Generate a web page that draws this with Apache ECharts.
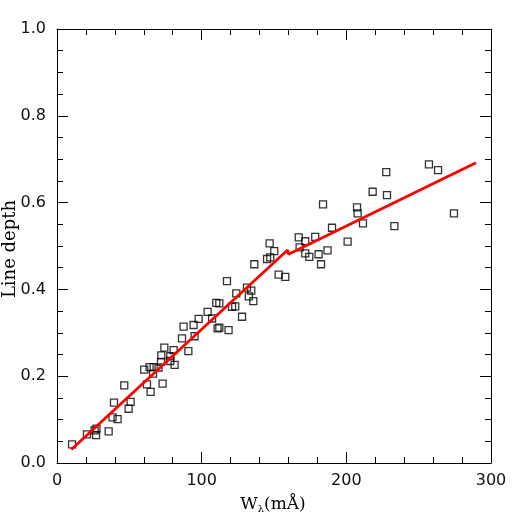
<!DOCTYPE html>
<html>
<head>
<meta charset="utf-8">
<script src="https://cdn.jsdelivr.net/npm/echarts@6/dist/echarts.min.js"></script>
<style>
  html, body { margin: 0; padding: 0; background: #fff; }
  #chart { width: 518px; height: 518px; }
</style>
</head>
<body>
<div id="chart"></div>
<script>
// measured lines: equivalent width (mA) vs line depth
var wLambda = [10.4, 20.7, 26.0, 27.0, 27.3, 35.7, 38.4, 41.9, 39.4, 46.5,
               49.5, 50.9, 60.3, 62.2, 64.7, 73.0, 64.0, 66.8, 70.2, 66.4,
               71.9, 72.1, 74.2, 78.3, 80.6, 81.3, 78.3, 86.4, 90.8, 87.5,
               94.4, 95.1, 97.9, 104.1, 107.2, 111.0, 112.2, 118.6, 110.1, 112.2,
               121.0, 123.2, 127.9, 123.9, 117.5, 131.3, 134.3, 132.6, 135.7, 136.4,
               145.2, 147.4, 150.2, 147.0, 153.2, 157.8, 167.1, 171.6, 167.7, 171.6,
               174.4, 178.5, 180.8, 187.0, 182.5, 183.9, 190.1, 200.9, 207.4, 207.8,
               211.5, 218.2, 227.6, 228.1, 233.2, 257.1, 263.4, 274.4];
var depth = [0.043, 0.066, 0.075, 0.064, 0.079, 0.073, 0.105, 0.101, 0.139, 0.179,
             0.125, 0.141, 0.215, 0.181, 0.164, 0.183, 0.221, 0.221, 0.220, 0.206,
             0.233, 0.248, 0.266, 0.235, 0.260, 0.226, 0.246, 0.287, 0.258, 0.314,
             0.318, 0.292, 0.332, 0.348, 0.333, 0.310, 0.312, 0.306, 0.369, 0.368,
             0.360, 0.361, 0.337, 0.391, 0.419, 0.404, 0.397, 0.384, 0.373, 0.458,
             0.470, 0.474, 0.488, 0.506, 0.434, 0.429, 0.520, 0.511, 0.497, 0.483,
             0.475, 0.521, 0.481, 0.490, 0.458, 0.596, 0.542, 0.510, 0.589, 0.575,
             0.552, 0.625, 0.670, 0.617, 0.546, 0.688, 0.675, 0.575];

// the red fit: low-width branch, then high-width branch (joined by a small jog)
var fitLowX = [9.9, 159.4];
var fitLowY = [0.031, 0.491];
var fitHighX = [160.0, 289.6];
var fitHighY = [0.481, 0.692];

var xTicks = [0, 100, 200, 300];
var yTicks = [0, 0.2, 0.4, 0.6, 0.8, 1.0];

function pairs(xs, ys) {
    var out = [];
    for (var i = 0; i < xs.length; i++) out.push([xs[i], ys[i]]);
    return out;
}

var myChart = echarts.init(document.getElementById('chart'));

var tickFont = { fontFamily: 'DejaVu Sans', fontSize: 16, color: '#111' };

function xAxisCfg(pos, labels) {
    return {
        type: 'value',
        position: pos,
        min: xTicks[0],
        max: xTicks[xTicks.length - 1],
        interval: 100,
        axisLine: { show: true, onZero: false, lineStyle: { color: '#000', width: 1 } },
        axisTick: { show: true, inside: true, length: 11, lineStyle: { color: '#000' } },
        minorTick: { show: true, splitNumber: 5, length: 6, lineStyle: { color: '#000' } },
        splitLine: { show: false },
        axisLabel: Object.assign({ show: labels, margin: 10 }, tickFont)
    };
}

function yAxisCfg(pos, labels) {
    return {
        type: 'value',
        position: pos,
        min: yTicks[0],
        max: yTicks[yTicks.length - 1],
        interval: 0.2,
        axisLine: { show: true, onZero: false, lineStyle: { color: '#000', width: 1 } },
        axisTick: { show: true, inside: true, length: 11, lineStyle: { color: '#000' } },
        minorTick: { show: true, splitNumber: 4, length: 6, lineStyle: { color: '#000' } },
        splitLine: { show: false },
        axisLabel: Object.assign({
            show: labels,
            margin: 11,
            formatter: function (v) { return v.toFixed(1); }
        }, tickFont)
    };
}

var option = {
    animation: false,
    backgroundColor: '#fff',
    grid: { left: 57, right: 27, top: 29, bottom: 55 },
    xAxis: [xAxisCfg('bottom', true), xAxisCfg('top', false)],
    yAxis: [yAxisCfg('left', true), yAxisCfg('right', false)],
    graphic: [
        {
            type: 'text',
            x: 10, y: 249,
            rotation: Math.PI / 2,
            style: {
                text: 'Line depth',
                font: '18px "DejaVu Serif"',
                fill: '#000',
                align: 'center',
                verticalAlign: 'middle'
            }
        },
        {
            type: 'text',
            x: 273, y: 505,
            style: {
                text: 'W{sub|λ}(mÅ)',
                font: '17px "DejaVu Serif"',
                fill: '#000',
                align: 'center',
                verticalAlign: 'middle',
                rich: {
                    sub: { fontFamily: 'DejaVu Serif', fontSize: 10, verticalAlign: 'bottom', padding: [8, 0, 0, 0] }
                }
            }
        }
    ],
    series: [
        {
            type: 'scatter',
            z: 2,
            symbol: 'rect',
            symbolSize: 7,
            itemStyle: { color: 'rgba(0,0,0,0)', borderColor: '#000', borderWidth: 1.3 },
            data: pairs(wLambda, depth)
        },
        {
            type: 'line',
            z: 3,
            symbol: 'none',
            lineStyle: { color: '#ff0000', width: 2.8 },
            data: pairs(fitLowX, fitLowY).concat(pairs(fitHighX, fitHighY))
        }
    ]
};
myChart.setOption(option);
</script>
</body>
</html>
